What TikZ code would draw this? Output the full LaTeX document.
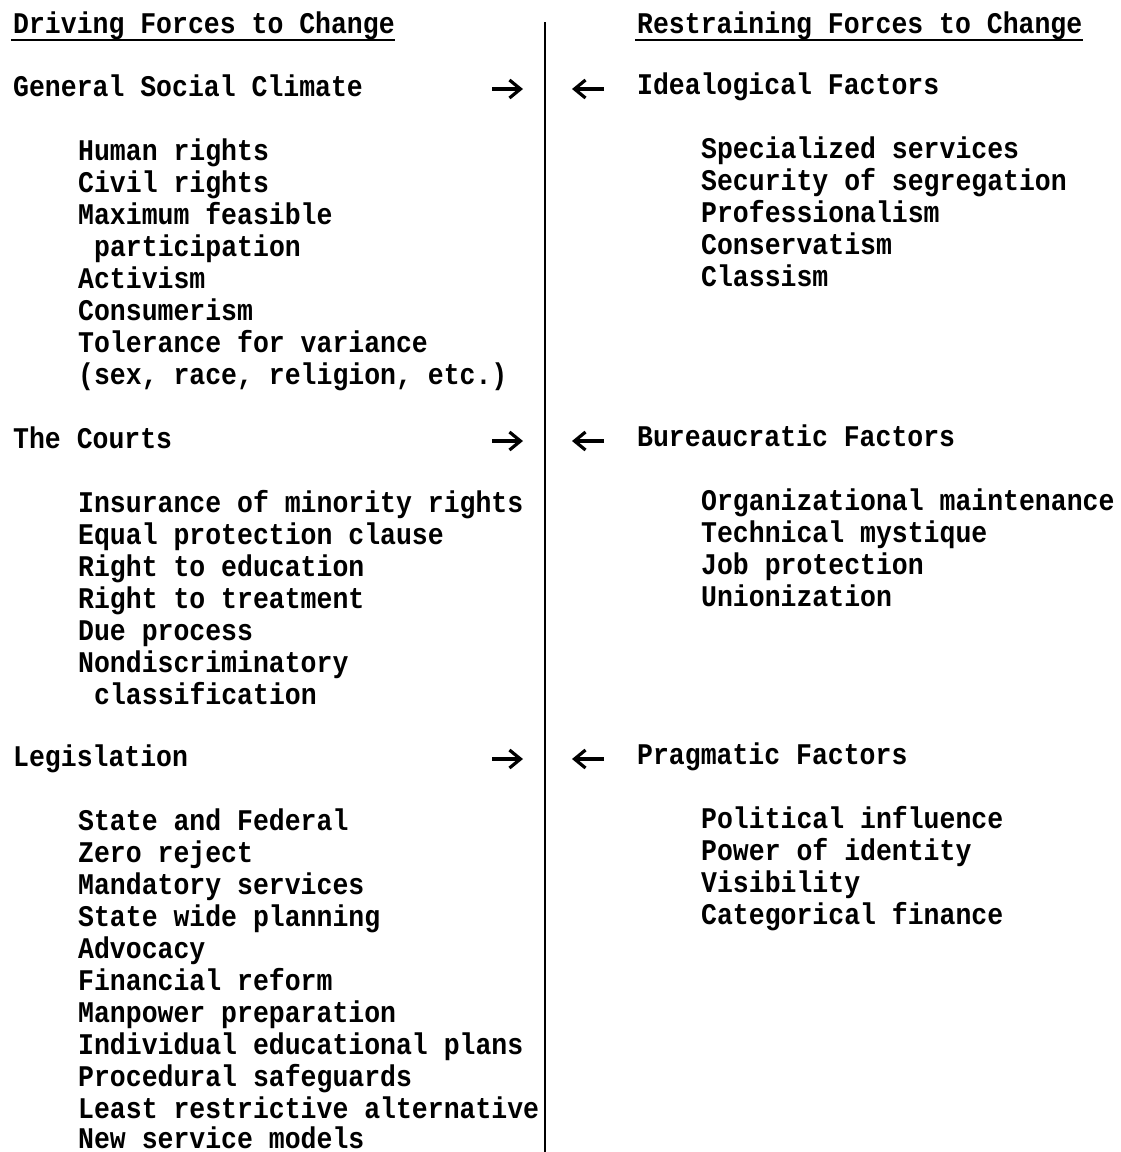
\documentclass[tikz,border=0pt]{standalone}
\usepackage{fontspec}
\newfontfamily\tw{Liberation Mono}[BoldFont={Liberation Mono Bold},FakeStretch=0.883]
\usetikzlibrary{arrows.meta}
\tikzset{
  txt/.style={anchor=base west, inner sep=0pt, font=\tw\bfseries\fontsize{30}{32}\selectfont},
  farrow/.style={line width=3.2pt, -{Straight Barb[length=11pt,width=18pt,line width=3.2pt]}},
  divider/.style={line width=2.8pt},
  uline/.style={line width=2pt}
}
\begin{document}
\begin{tikzpicture}[x=1pt,y=-1pt]
\useasboundingbox (0,0) rectangle (1121,1152);
% headers
\node[txt] (lh) at (13,33) {Driving Forces to Change};
\node[txt] (rh) at (637,33) {Restraining Forces to Change};
\coordinate (lu1) at (11,40);
\coordinate (ru1) at (635,40);
\draw[uline] (lu1) -- (lh.east |- lu1);
\draw[uline] (ru1) -- (rh.east |- ru1);
% divider
\coordinate (dtop) at (545,22);
\coordinate (dbot) at (545,1152);
\draw[divider] (dtop) -- (dbot);
% left column
\node[txt] (l0) at (13,96) {General Social Climate};
\node[txt] (l1) at (78,160) {Human rights};
\node[txt] (l2) at (78,192) {Civil rights};
\node[txt] (l3) at (78,224) {Maximum feasible};
\node[txt] (l4) at (94,256) {participation};
\node[txt] (l5) at (78,288) {Activism};
\node[txt] (l6) at (78,320) {Consumerism};
\node[txt] (l7) at (78,352) {Tolerance for variance};
\node[txt] (l8) at (78,384) {(sex, race, religion, etc.)};
\node[txt] (m0) at (13,448) {The Courts};
\node[txt] (m1) at (78,512) {Insurance of minority rights};
\node[txt] (m2) at (78,544) {Equal protection clause};
\node[txt] (m3) at (78,576) {Right to education};
\node[txt] (m4) at (78,608) {Right to treatment};
\node[txt] (m5) at (78,640) {Due process};
\node[txt] (m6) at (78,672) {Nondiscriminatory};
\node[txt] (m7) at (94,704) {classification};
\node[txt] (n0) at (13,766) {Legislation};
\node[txt] (n1) at (78,830) {State and Federal};
\node[txt] (n2) at (78,862) {Zero reject};
\node[txt] (n3) at (78,894) {Mandatory services};
\node[txt] (n4) at (78,926) {State wide planning};
\node[txt] (n5) at (78,958) {Advocacy};
\node[txt] (n6) at (78,990) {Financial reform};
\node[txt] (n7) at (78,1022) {Manpower preparation};
\node[txt] (n8) at (78,1054) {Individual educational plans};
\node[txt] (n9) at (78,1086) {Procedural safeguards};
\node[txt] (n10) at (78,1118) {Least restrictive alternative};
\node[txt] (n11) at (78,1148) {New service models};
% right column
\node[txt] (r0) at (637,94) {Idealogical Factors};
\node[txt] (r1) at (701,158) {Specialized services};
\node[txt] (r2) at (701,190) {Security of segregation};
\node[txt] (r3) at (701,222) {Professionalism};
\node[txt] (r4) at (701,254) {Conservatism};
\node[txt] (r5) at (701,286) {Classism};
\node[txt] (s0) at (637,446) {Bureaucratic Factors};
\node[txt] (s1) at (701,510) {Organizational maintenance};
\node[txt] (s2) at (701,542) {Technical mystique};
\node[txt] (s3) at (701,574) {Job protection};
\node[txt] (s4) at (701,606) {Unionization};
\node[txt] (t0) at (637,764) {Pragmatic Factors};
\node[txt] (t1) at (701,828) {Political influence};
\node[txt] (t2) at (701,860) {Power of identity};
\node[txt] (t3) at (701,892) {Visibility};
\node[txt] (t4) at (701,924) {Categorical finance};
% arrows
\coordinate (a1s) at (492,89); \coordinate (a1e) at (523,89);
\coordinate (b1s) at (604,89); \coordinate (b1e) at (572,89);
\coordinate (a2s) at (492,441); \coordinate (a2e) at (523,441);
\coordinate (b2s) at (604,441); \coordinate (b2e) at (572,441);
\coordinate (a3s) at (492,759); \coordinate (a3e) at (523,759);
\coordinate (b3s) at (604,759); \coordinate (b3e) at (572,759);
\draw[farrow] (a1s) -- (a1e);
\draw[farrow] (b1s) -- (b1e);
\draw[farrow] (a2s) -- (a2e);
\draw[farrow] (b2s) -- (b2e);
\draw[farrow] (a3s) -- (a3e);
\draw[farrow] (b3s) -- (b3e);
\end{tikzpicture}
\end{document}
